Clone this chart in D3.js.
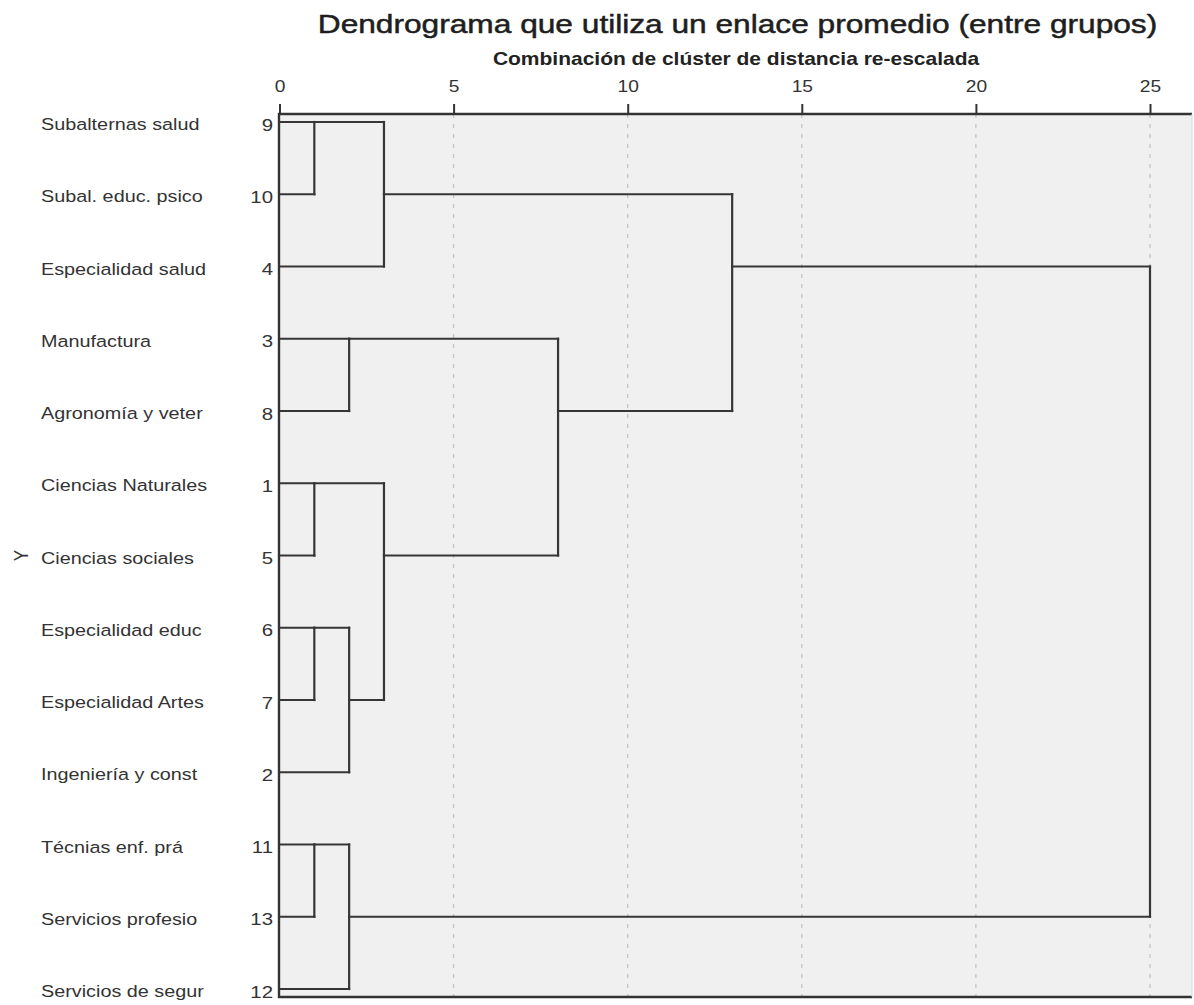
<!DOCTYPE html>
<html>
<head>
<meta charset="utf-8">
<script src="https://cdn.jsdelivr.net/npm/d3@7"></script>
<style>
  html, body { margin: 0; padding: 0; background: #fff; }
  svg { display: block; }
  text { font-family: "Liberation Sans", Arial, sans-serif; }
</style>
</head>
<body>
<svg id="chart" width="1194" height="1005"></svg>
<script>
// Leaves in display order (top to bottom) with their case numbers
const leafLabels = [
  "Subalternas salud", "Subal. educ. psico", "Especialidad salud",
  "Manufactura", "Agronomía y veter", "Ciencias Naturales",
  "Ciencias sociales", "Especialidad educ", "Especialidad Artes",
  "Ingeniería y const", "Técnias enf. prá", "Servicios profesio",
  "Servicios de segur"
];
const caseNumbers = [9, 10, 4, 3, 8, 1, 5, 6, 7, 2, 11, 13, 12];

// Agglomeration steps: [cluster A, cluster B, rescaled distance]
// Clusters are referenced by case number or by "s<step>" for earlier merges.
const mergeSteps = [
  [9, 10, 1],
  [1, 5, 1],
  [6, 7, 1],
  [11, 13, 1],
  ["s2", 2, 2],
  [3, 8, 2],
  ["s3", 12, 2],
  ["s0", 4, 3],
  ["s1", "s4", 3],
  ["s5", "s8", 8],
  ["s7", "s9", 13],
  ["s10", "s6", 25]
];

const xTicks = [0, 5, 10, 15, 20, 25];

const titleText = "Dendrograma que utiliza un enlace promedio (entre grupos)";
const subtitleText = "Combinación de clúster de distancia re-escalada";
const yAxisLabel = "Y";

const svg = d3.select("#chart");

const plot = { left: 279, top: 114, right: 1192, bottom: 997 };
const SX = 1.2; // horizontal widening of all lettering

const x = d3.scaleLinear().domain([0, 25]).range([279.5, 1150]);
const y = d3.scalePoint().domain(caseNumbers).range([122, 989]);

// Plot background
svg.append("rect")
  .attr("x", plot.left).attr("y", plot.top)
  .attr("width", plot.right - plot.left).attr("height", plot.bottom - plot.top)
  .attr("fill", "#f0f0f0");

// Dashed vertical grid lines
svg.append("g").selectAll("line")
  .data(xTicks.filter(t => t > 0))
  .join("line")
  .attr("x1", d => x(d)).attr("x2", d => x(d))
  .attr("y1", plot.top).attr("y2", plot.bottom)
  .attr("stroke", "#c4c4c4").attr("stroke-width", 1.3)
  .attr("stroke-dasharray", "4,6");

// Build cluster geometry: each cluster has a row position and height
const rowIndex = new Map(caseNumbers.map((c, i) => [c, i]));
const clusters = new Map();
caseNumbers.forEach(c => clusters.set(String(c), { row: rowIndex.get(c), h: 0 }));

const segs = [];
mergeSteps.forEach(([a, b, h], i) => {
  const ca = clusters.get(String(a));
  const cb = clusters.get(String(b));
  const top = Math.min(ca.row, cb.row), bot = Math.max(ca.row, cb.row);
  // horizontal links from each child to the merge height
  segs.push([ca.h, ca.row, h, ca.row]);
  segs.push([cb.h, cb.row, h, cb.row]);
  // vertical joining bar
  segs.push([h, top, h, bot]);
  clusters.set("s" + i, { row: Math.floor((ca.row + cb.row) / 2), h: h });
});

const rowY = r => y(caseNumbers[r]);

svg.append("g")
  .selectAll("line")
  .data(segs)
  .join("line")
  .attr("x1", d => x(d[0]))
  .attr("y1", d => rowY(d[1]))
  .attr("x2", d => x(d[2]))
  .attr("y2", d => rowY(d[3]))
  .attr("stroke", "#363636")
  .attr("stroke-width", 2.2)
  .attr("stroke-linecap", "square");

// Plot frame (left, top, bottom edges)
svg.append("path")
  .attr("d", `M${plot.right},${plot.top}H${plot.left}V${plot.bottom}H${plot.right}`)
  .attr("fill", "none").attr("stroke", "#333").attr("stroke-width", 2.4);
svg.append("line")
  .attr("x1", plot.right).attr("x2", plot.right)
  .attr("y1", plot.top).attr("y2", plot.bottom)
  .attr("stroke", "#d8d8d8").attr("stroke-width", 1);

// Top axis
const axis = d3.axisTop(x).tickValues(xTicks).tickSize(10).tickFormat(d3.format("d"));
const gAxis = svg.append("g")
  .attr("transform", `translate(0,${plot.top})`)
  .call(axis);
gAxis.select(".domain").remove();
gAxis.selectAll(".tick line").attr("stroke", "#333").attr("stroke-width", 2);
gAxis.selectAll(".tick text")
  .attr("y", -22)
  .attr("dy", null)
  .attr("transform", `scale(${SX},1)`)
  .attr("font-size", 16).attr("fill", "#333")
  .attr("font-family", "'Liberation Sans', Arial, sans-serif");

// Widened text placed at (px, py)
function wideText(sel, px, py) {
  return sel.attr("transform", (d, i) =>
    `translate(${typeof px === "function" ? px(d, i) : px},${typeof py === "function" ? py(d, i) : py}) scale(${SX},1)`);
}

// Leaf labels and case numbers
wideText(svg.append("g").selectAll("text")
  .data(caseNumbers)
  .join("text"), 41, d => y(d) + 8)
  .attr("font-size", 16.5).attr("fill", "#333")
  .text((d, i) => leafLabels[i]);

wideText(svg.append("g").selectAll("text")
  .data(caseNumbers)
  .join("text"), 273, d => y(d) + 8.5)
  .attr("text-anchor", "end")
  .attr("font-size", 17).attr("fill", "#333")
  .text(d => d);

// Vertical axis label
svg.append("text")
  .attr("transform", `translate(28,${y(5)}) rotate(-90) scale(1,${SX})`)
  .attr("text-anchor", "middle")
  .attr("font-size", 17).attr("fill", "#333")
  .text(yAxisLabel);

// Titles
wideText(svg.append("text"), 737.5, 33)
  .attr("text-anchor", "middle")
  .attr("font-size", 26.4).attr("fill", "#1e1e1e")
  .attr("stroke", "#1e1e1e").attr("stroke-width", 0.5)
  .text(titleText);

wideText(svg.append("text"), 736, 65)
  .attr("text-anchor", "middle")
  .attr("font-size", 17.5).attr("font-weight", "bold").attr("fill", "#222")
  .text(subtitleText);
</script>
</body>
</html>
